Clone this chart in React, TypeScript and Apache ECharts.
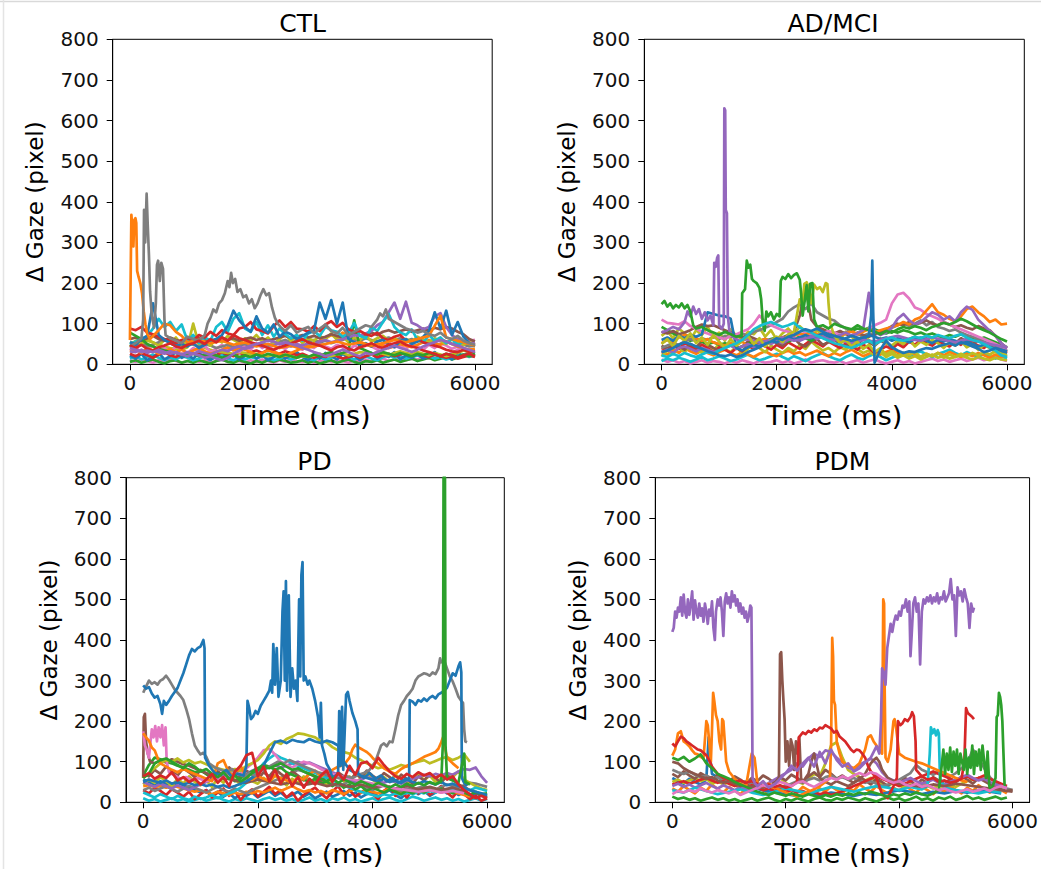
import React, { useEffect, useRef } from "react";
import * as echarts from "echarts";

type Pair = [number, number];

// Shared sampling grid (ms) for traces stored as plain value lists
const TIME_GRID = [
  0, 100, 200, 300, 400, 500, 600, 700, 800, 900,
  1000, 1100, 1200, 1300, 1400, 1500, 1600, 1700, 1800, 1900,
  2000, 2100, 2200, 2300, 2400, 2500, 2600, 2700, 2800, 2900,
  3000, 3100, 3200, 3300, 3400, 3500, 3600, 3700, 3800, 3900,
  4000, 4100, 4200, 4300, 4400, 4500, 4600, 4700, 4800, 4900,
  5000, 5100, 5200, 5300, 5400, 5500, 5600, 5700, 5800, 5900,
  6000,
];

const X_TICKS = [0, 2000, 4000, 6000];
const PANEL_TITLES = ["CTL", "AD/MCI", "PD", "PDM"];

// ---------------- CTL ----------------
const ctlBlueA = [
  55, 48, 62, 70, 150, 72, 60, 52, 45, 50,
  44, 52, 40, 48, 58, 62, 72, 95, 132, 108,
  92, 80, 118, 88, 78, 98, 68, 80, 74, 62,
  70, 78, 82, 152, 112, 158, 100, 152, 62, 55,
  48, 52, 44, 56, 60, 48, 42, 58, 62, 50,
  56, 68, 82, 128, 88, 132, 72, 104, 68, 52,
  44,
];
const ctlCyanA = [
  48, 56, 62, 70, 88, 112, 92, 104, 82, 98,
  58, 72, 52, 66, 58, 92, 104, 80, 112, 126,
  88, 80, 104, 72, 96, 68, 88, 74, 64, 72,
  58, 76, 82, 70, 92, 84, 80, 68, 76, 102,
  70, 64, 92, 82, 104, 124, 92, 78, 72, 86,
  60, 54, 72, 58, 66, 52, 62, 48, 56, 50,
  46,
];
const ctlRedA = [
  88, 84, 92, 78, 74, 68, 62, 58, 52, 60,
  64, 58, 72, 66, 80, 70, 84, 76, 72, 88,
  92, 104, 86, 82, 76, 94, 108, 92, 104, 88,
  86, 80, 94, 82, 98, 106, 92, 102, 86, 80,
  82, 74, 70, 78, 64, 60, 68, 72, 58, 56,
  62, 54, 50, 46, 42, 36, 32, 30, 36, 30,
  32,
];
const ctlRedB = [
  46, 40, 48, 38, 34, 42, 46, 52, 44, 40,
  48, 52, 58, 50, 62, 54, 66, 58, 72, 64,
  60, 54, 50, 46, 40, 36, 42, 46, 52, 56,
  62, 54, 50, 46, 40, 34, 42, 46, 38, 34,
  42, 46, 52, 44, 40, 48, 52, 56, 48, 44,
  40, 34, 30, 26, 20, 26, 22, 16, 22, 26,
  20,
];
const ctlPurpleA = [
  40, 36, 30, 34, 30, 36, 30, 26, 30, 24,
  20, 26, 22, 16, 20, 14, 10, 16, 26, 34,
  40, 46, 50, 54, 58, 56, 50, 54, 50, 46,
  40, 36, 30, 26, 20, 24, 30, 36, 30, 24,
  20, 28, 24, 30, 36, 40, 46, 40, 36, 30,
  36, 44, 50, 54, 60, 56, 50, 46, 40, 36,
  30,
];
const ctlPurpleB = [
  32, 30, 36, 28, 34, 30, 26, 32, 28, 24,
  30, 26, 32, 28, 24, 30, 36, 32, 40, 44,
  38, 42, 48, 44, 50, 46, 52, 48, 44, 50,
  46, 52, 48, 56, 60, 54, 58, 62, 66, 72,
  70, 76, 82, 96, 104, 128, 152, 112, 154, 102,
  96, 86, 92, 118, 126, 92, 72, 62, 56, 50,
  52,
];
const ctlBrown = [
  62, 66, 58, 64, 70, 62, 58, 66, 60, 56,
  62, 58, 64, 60, 56, 62, 66, 60, 64, 58,
  62, 66, 60, 64, 58, 62, 66, 70, 64, 68,
  72, 66, 70, 64, 68, 74, 70, 66, 72, 76,
  70, 74, 78, 72, 80, 84, 78, 82, 86, 80,
  84, 88, 82, 90, 86, 92, 88, 80, 74, 62,
  56,
];
const ctlGreenA = [
  78, 70, 62, 50, 44, 38, 34, 30, 28, 24,
  22, 26, 20, 24, 18, 22, 16, 20, 24, 18,
  22, 18, 24, 20, 26, 22, 18, 24, 20, 16,
  22, 18, 24, 20, 26, 30, 24, 28, 34, 108,
  40, 34, 28, 24, 30, 26, 22, 28, 24, 20,
  26, 22, 28, 24, 20, 26, 22, 18, 24, 20,
  26,
];
const ctlOlive = [
  52, 56, 50, 58, 54, 48, 44, 40, 38, 36,
  42, 100, 48, 40, 36, 32, 30, 28, 26, 30,
  28, 24, 26, 22, 20, 24, 18, 22, 20, 16,
  20, 18, 22, 26, 22, 20, 24, 28, 22, 26,
  30, 28, 24, 30, 26, 22, 28, 32, 28, 24,
  30, 26, 22, 28, 24, 20, 24, 28, 34, 30,
  28,
];
const ctlOliveB = [
  44, 58, 50, 62, 54, 46, 60, 52, 66, 48,
  56, 64, 50, 58, 46, 62, 54, 70, 60, 52,
  64, 58, 72, 56, 66, 50, 62, 74, 58, 68,
  52, 64, 58, 70, 62, 76, 60, 68, 54, 66,
  60, 72, 56, 64, 70, 58, 66, 52, 62, 56,
  68, 60, 54, 64, 58, 50, 62, 56, 48, 54,
  50,
];
const ctlPink = [
  10, 6, 12, 8, 4, 10, 6, 12, 8, 4,
  8, 12, 6, 10, 4, 8, 12, 6, 10, 8,
  4, 10, 6, 12, 8, 4, 10, 6, 12, 8,
  6, 10, 4, 8, 12, 6, 10, 8, 4, 10,
  8, 12, 6, 10, 14, 8, 12, 16, 10, 14,
  12, 18, 14, 20, 16, 22, 28, 36, 48, 58,
  60,
];
const ctlPinkB = [
  34, 42, 28, 38, 46, 32, 40, 30, 44, 36,
  28, 40, 34, 46, 30, 38, 48, 34, 42, 30,
  46, 36, 52, 40, 48, 34, 44, 38, 50, 42,
  36, 46, 40, 52, 44, 38, 48, 42, 34, 46,
  40, 50, 44, 36, 48, 54, 42, 46, 38, 50,
  44, 36, 48, 40, 52, 46, 38, 44, 50, 56,
  48,
];
const ctlBlueB = [
  22, 14, 26, 10, 18, 28, 12, 20, 30, 16,
  24, 14, 28, 18, 10, 22, 30, 16, 24, 12,
  20, 28, 14, 24, 10, 18, 26, 14, 22, 30,
  18, 10, 24, 14, 28, 20, 12, 26, 16, 22,
  10, 20, 28, 14, 24, 18, 30, 12, 22, 16,
  26, 14, 20, 30, 18, 24, 12, 28, 20, 32,
  26,
];
const ctlOrangeB = [
  30, 36, 28, 40, 34, 26, 32, 38, 30, 36,
  28, 34, 40, 32, 26, 30, 36, 42, 34, 40,
  36, 30, 24, 28, 34, 30, 26, 22, 28, 34,
  40, 46, 52, 58, 64, 72, 66, 78, 70, 62,
  56, 48, 44, 50, 46, 40, 44, 50, 46, 42,
  48, 54, 60, 52, 48, 56, 50, 44, 40, 36,
  38,
];
const ctlCyanB = [
  14, 20, 12, 18, 24, 16, 10, 18, 12, 20,
  16, 10, 14, 20, 12, 18, 22, 14, 10, 16,
  12, 18, 14, 20, 16, 10, 14, 18, 12, 16,
  20, 14, 10, 18, 12, 16, 22, 14, 18, 12,
  16, 20, 14, 10, 18, 22, 16, 20, 14, 18,
  22, 16, 20, 14, 18, 12, 16, 20, 24, 18,
  22,
];
const ctlGreenB = [
  6, 10, 4, 8, 12, 6, 2, 8, 10, 4,
  8, 4, 10, 6, 2, 8, 12, 6, 4, 10,
  6, 2, 8, 4, 10, 6, 12, 8, 4, 6,
  10, 4, 8, 2, 6, 10, 4, 8, 12, 6,
  2, 8, 6, 10, 4, 8, 12, 6, 10, 14,
  8, 12, 16, 10, 14, 18, 12, 16, 20, 24,
  22,
];
const ctlRedC = [
  26, 20, 28, 22, 16, 24, 30, 22, 18, 26,
  20, 28, 24, 18, 26, 22, 30, 24, 20, 28,
  24, 30, 34, 28, 36, 30, 26, 32, 28, 22,
  26, 20, 16, 22, 18, 24, 20, 14, 18, 22,
  16, 20, 24, 18, 22, 26, 20, 24, 28, 22,
  26, 22, 18, 24, 20, 16, 20, 14, 18, 22,
  18,
];
const ctlGrayB = [
  40, 46, 52, 44, 48, 54, 60, 56, 50, 46,
  52, 48, 44, 50, 46, 40, 44, 48, 42, 46,
  50, 44, 48, 52, 46, 50, 56, 60, 54, 58,
  62, 56, 60, 54, 58, 52, 56, 60, 66, 62,
  58, 64, 60, 56, 62, 66, 60, 64, 58, 62,
  56, 60, 54, 58, 62, 56, 50, 54, 48, 44,
  46,
];
const ctlOrangeA: Pair[] = [
  [0, 60], [15, 250], [25, 368], [45, 330], [60, 290], [75, 355], [95, 360], [110, 348],
  [125, 230], [150, 215], [180, 200], [210, 175], [240, 130], [270, 98], [300, 75], [350, 62],
  [400, 70], [500, 84], [600, 100], [700, 96], [800, 80], [900, 70], [1000, 54], [1200, 60],
  [1400, 52], [1600, 58], [1800, 48], [2000, 54], [2200, 44], [2400, 50], [2600, 40], [2800, 46],
  [3000, 38], [3200, 44], [3400, 50], [3600, 56], [3800, 48], [4000, 54], [4200, 46], [4400, 52],
  [4600, 60], [4800, 54], [5000, 62], [5200, 70], [5400, 120], [5500, 66], [5700, 58], [5900, 50],
  [6000, 46],
];
const ctlGrayA: Pair[] = [
  [0, 44], [100, 52], [200, 64], [230, 110], [245, 380], [265, 300], [290, 420], [310, 340],
  [330, 270], [350, 180], [380, 120], [420, 90], [450, 150], [470, 245], [490, 255], [520, 205],
  [545, 250], [575, 235], [600, 110], [620, 72], [700, 64], [800, 58], [900, 52], [1000, 68],
  [1100, 62], [1200, 58], [1300, 72], [1350, 100], [1400, 115], [1450, 135], [1500, 128], [1550, 150],
  [1600, 158], [1650, 175], [1700, 205], [1730, 190], [1760, 225], [1790, 200], [1830, 210], [1870, 178],
  [1920, 185], [1970, 165], [2020, 170], [2070, 150], [2120, 160], [2170, 138], [2220, 150], [2270, 170],
  [2320, 185], [2370, 170], [2420, 175], [2470, 140], [2520, 115], [2570, 100], [2620, 92], [2700, 82],
  [2800, 96], [2900, 78], [3000, 86], [3100, 92], [3200, 76], [3300, 88], [3400, 98], [3500, 82],
  [3600, 76], [3700, 90], [3800, 72], [3900, 80], [4000, 88], [4100, 96], [4200, 92], [4300, 110],
  [4350, 125], [4400, 118], [4450, 135], [4500, 112], [4600, 104], [4700, 96], [4800, 88], [4900, 84],
  [5000, 78], [5100, 82], [5200, 74], [5300, 70], [5400, 78], [5500, 66], [5600, 62], [5700, 70],
  [5800, 58], [5900, 52], [6000, 48],
];

// ---------------- AD/MCI ----------------
const adPurpleA: Pair[] = [
  [0, 78], [100, 84], [200, 92], [300, 86], [400, 104], [450, 130], [500, 118], [550, 142],
  [600, 124], [650, 136], [700, 112], [750, 128], [800, 108], [850, 120], [900, 96], [915, 250],
  [940, 240], [965, 262], [985, 268], [1000, 96], [1050, 88], [1080, 100], [1090, 630], [1105, 625],
  [1115, 380], [1135, 372], [1150, 120], [1180, 80], [1250, 66], [1350, 58], [1500, 62], [1700, 54],
  [1900, 60], [2100, 66], [2300, 58], [2500, 64], [2700, 70], [2900, 62], [3100, 58], [3300, 52],
  [3500, 60], [3700, 56], [3900, 64], [4100, 70], [4300, 62], [4500, 58], [4700, 66], [4900, 60],
  [5100, 54], [5300, 62], [5500, 56], [5700, 50], [5900, 44], [6000, 40],
];
const adPurpleB = [
  30, 36, 28, 40, 44, 38, 32, 40, 36, 30,
  34, 40, 46, 38, 44, 50, 42, 48, 56, 50,
  58, 52, 60, 66, 58, 64, 70, 62, 68, 74,
  66, 72, 78, 70, 76, 84, 176, 80, 72, 78,
  90, 112, 124, 108, 98, 104, 116, 128, 122, 110,
  118, 106, 128, 142, 134, 110, 96, 82, 70, 52,
  40,
];
const adBlueA: Pair[] = [
  [0, 30], [100, 34], [200, 40], [300, 48], [400, 54], [500, 50], [600, 44], [700, 38],
  [800, 32], [900, 28], [1000, 22], [1100, 20], [1200, 24], [1300, 18], [1400, 22], [1500, 30],
  [1600, 36], [1700, 42], [1800, 50], [1900, 56], [2000, 64], [2100, 60], [2200, 68], [2300, 72],
  [2400, 80], [2500, 86], [2600, 82], [2700, 88], [2800, 80], [2900, 74], [3000, 70], [3100, 66],
  [3200, 62], [3300, 58], [3400, 62], [3500, 66], [3600, 70], [3640, 120], [3660, 255], [3675, 130],
  [3700, 4], [3750, 20], [3800, 36], [3900, 58], [4000, 42], [4100, 34], [4200, 28], [4300, 32],
  [4400, 30], [4500, 36], [4600, 40], [4700, 38], [4800, 44], [4900, 48], [5000, 52], [5100, 46],
  [5200, 54], [5300, 50], [5400, 44], [5500, 38], [5600, 30], [5700, 34], [5800, 40], [5900, 36],
  [6000, 32],
];
const adBlueB = [
  60, 66, 58, 70, 64, 72, 68, 74, 128, 124,
  120, 118, 112, 40, 34, 42, 48, 44, 52, 58,
  54, 62, 68, 60, 66, 72, 64, 70, 76, 68,
  62, 58, 64, 70, 66, 60, 72, 68, 62, 66,
  58, 64, 60, 54, 62, 66, 58, 52, 60, 56,
  62, 58, 52, 56, 50, 44, 48, 42, 38, 30,
  26,
];
const adGreenA: Pair[] = [
  [0, 148], [50, 156], [100, 142], [150, 150], [200, 138], [250, 146], [300, 140], [350, 150],
  [400, 138], [450, 146], [500, 130], [550, 96], [600, 88], [700, 92], [800, 84], [900, 78],
  [1000, 72], [1100, 80], [1200, 74], [1300, 68], [1390, 70], [1400, 175], [1450, 185], [1480, 255],
  [1510, 238], [1540, 245], [1570, 210], [1600, 205], [1650, 200], [1700, 188], [1730, 160], [1760, 100],
  [1790, 82], [1820, 130], [1850, 118], [1900, 128], [1950, 110], [2000, 124], [2050, 118], [2070, 205],
  [2100, 215], [2150, 210], [2200, 222], [2250, 212], [2300, 220], [2350, 224], [2400, 208], [2420, 180],
  [2450, 120], [2480, 150], [2520, 195], [2550, 130], [2580, 198], [2620, 200], [2650, 110], [2700, 92],
  [2800, 96], [2900, 88], [3000, 100], [3100, 94], [3200, 90], [3300, 86], [3400, 96], [3500, 88],
  [3600, 84], [3700, 80], [3800, 74], [3900, 82], [4000, 78], [4100, 86], [4200, 92], [4300, 88],
  [4400, 94], [4500, 90], [4600, 84], [4700, 92], [4800, 96], [4900, 102], [5000, 98], [5100, 104],
  [5200, 112], [5300, 106], [5400, 98], [5500, 90], [5600, 84], [5700, 78], [5800, 70], [5900, 62],
  [6000, 56],
];
const adOliveA: Pair[] = [
  [0, 50], [100, 62], [200, 44], [300, 70], [400, 58], [500, 76], [600, 52], [700, 66],
  [800, 48], [900, 72], [1000, 56], [1100, 40], [1200, 62], [1300, 46], [1400, 58], [1500, 70],
  [1600, 50], [1700, 64], [1800, 44], [1900, 58], [2000, 68], [2100, 54], [2200, 74], [2300, 80],
  [2350, 120], [2400, 160], [2450, 150], [2480, 198], [2520, 202], [2560, 188], [2600, 150], [2650, 196],
  [2700, 185], [2750, 190], [2800, 178], [2850, 200], [2880, 198], [2900, 150], [2930, 100], [3000, 70],
  [3100, 52], [3200, 60], [3300, 44], [3400, 56], [3500, 38], [3600, 48], [3700, 30], [3800, 40],
  [3900, 24], [4000, 32], [4100, 20], [4200, 28], [4300, 22], [4400, 30], [4500, 18], [4600, 26],
  [4700, 20], [4800, 28], [4900, 16], [5000, 24], [5100, 18], [5200, 26], [5300, 20], [5400, 28],
  [5500, 22], [5600, 30], [5700, 24], [5800, 32], [5900, 26], [6000, 22],
];
const adOliveB = [
  20, 34, 26, 40, 30, 46, 36, 28, 42, 34,
  50, 38, 30, 44, 26, 38, 52, 40, 30, 46,
  36, 28, 40, 32, 48, 38, 56, 44, 34, 40,
  30, 42, 36, 50, 38, 28, 34, 22, 30, 18,
  26, 16, 22, 14, 20, 12, 18, 24, 16, 20,
  14, 18, 22, 16, 12, 18, 14, 10, 16, 12,
  10,
];
const adOliveC = [
  70, 82, 64, 88, 76, 60, 84, 72, 92, 66,
  78, 58, 86, 70, 62, 80, 74, 90, 68, 84,
  60, 76, 88, 72, 94, 80, 66, 84, 70, 58,
  74, 62, 80, 68, 56, 72, 60, 48, 64, 52,
  46, 58, 50, 62, 44, 56, 48, 60, 52, 40,
  54, 46, 58, 42, 50, 36, 48, 40, 30, 24,
  20,
];
const adOrangeA = [
  52, 60, 56, 66, 72, 70, 64, 58, 62, 54,
  50, 46, 52, 48, 56, 44, 50, 58, 62, 56,
  60, 66, 62, 70, 76, 72, 80, 74, 68, 72,
  66, 70, 76, 82, 74, 80, 86, 78, 84, 88,
  92, 96, 104, 98, 110, 116, 132, 148, 128, 122,
  112, 106, 118, 136, 142, 128, 118, 104, 110, 98,
  100,
];
const adPinkA = [
  110, 102, 100, 98, 106, 94, 88, 80, 76, 70,
  66, 62, 70, 74, 80, 86, 100, 120, 104, 96,
  90, 84, 80, 76, 72, 78, 74, 70, 76, 82,
  78, 72, 76, 80, 74, 82, 88, 96, 102, 110,
  150, 172, 176, 162, 140, 134, 124, 118, 112, 104,
  98, 92, 86, 80, 74, 68, 62, 56, 50, 44,
  38,
];
const adBrown = [
  80, 76, 82, 74, 78, 84, 92, 98, 94, 96,
  90, 84, 78, 72, 66, 70, 64, 58, 62, 56,
  60, 66, 72, 80, 120, 190, 110, 92, 86, 80,
  76, 82, 74, 70, 78, 72, 68, 74, 80, 86,
  94, 100, 96, 104, 98, 102, 108, 100, 96, 104,
  98, 92, 96, 90, 86, 94, 88, 84, 70, 52,
  40,
];
const adBrownB = [
  46, 38, 52, 44, 36, 50, 42, 56, 48, 40,
  34, 46, 52, 38, 44, 56, 48, 42, 54, 60,
  52, 46, 58, 64, 50, 44, 56, 62, 48, 54,
  60, 50, 44, 56, 48, 62, 54, 46, 58, 52,
  44, 56, 50, 62, 68, 58, 64, 52, 60, 66,
  58, 52, 64, 56, 48, 60, 52, 44, 48, 40,
  32,
];
const adGray = [
  40, 46, 52, 48, 56, 62, 58, 64, 60, 68,
  62, 70, 66, 72, 76, 70, 80, 84, 90, 96,
  104, 112, 130, 140, 148, 136, 150, 128, 120, 112,
  108, 96, 88, 80, 74, 70, 76, 72, 80, 86,
  90, 96, 102, 94, 100, 108, 96, 104, 92, 88,
  82, 86, 78, 72, 68, 62, 56, 50, 44, 38,
  34,
];
const adCyanA = [
  22, 18, 26, 20, 28, 22, 18, 24, 30, 26,
  34, 40, 46, 52, 60, 72, 86, 94, 100, 104,
  98, 92, 96, 102, 90, 84, 78, 70, 64, 58,
  52, 48, 44, 40, 46, 52, 58, 50, 56, 62,
  66, 60, 58, 62, 68, 64, 70, 66, 72, 68,
  64, 70, 74, 66, 60, 56, 50, 42, 34, 22,
  18,
];
const adCyanB = [
  8, 14, 10, 16, 12, 6, 12, 18, 10, 14,
  20, 14, 8, 12, 18, 24, 16, 10, 14, 20,
  26, 18, 12, 20, 14, 8, 16, 22, 28, 20,
  14, 10, 18, 24, 16, 12, 20, 26, 18, 10,
  16, 22, 28, 20, 26, 32, 24, 18, 26, 30,
  36, 28, 22, 30, 24, 18, 26, 20, 14, 20,
  14,
];
const adRed = [
  40, 34, 46, 38, 52, 44, 36, 48, 40, 30,
  42, 36, 28, 40, 32, 46, 38, 50, 44, 36,
  48, 40, 54, 46, 38, 50, 60, 52, 44, 56,
  48, 40, 52, 44, 36, 48, 40, 28, 36, 44,
  38, 50, 42, 56, 48, 60, 52, 46, 58, 50,
  44, 56, 48, 60, 54, 46, 40, 52, 44, 38,
  28,
];
const adPinkB = [
  12, 6, 10, 4, 8, 2, 6, 10, 4, 8,
  6, 2, 8, 4, 10, 6, 2, 8, 4, 6,
  10, 4, 8, 2, 6, 12, 4, 8, 10, 6,
  4, 8, 2, 6, 10, 4, 8, 12, 6, 2,
  6, 10, 4, 8, 2, 6, 10, 14, 8, 12,
  6, 10, 14, 8, 12, 16, 10, 14, 18, 12,
  8,
];
const adGreenB = [
  92, 84, 76, 70, 64, 58, 62, 56, 50, 54,
  48, 52, 46, 40, 44, 50, 56, 52, 58, 62,
  66, 60, 56, 62, 68, 64, 58, 66, 72, 68,
  74, 80, 76, 82, 88, 84, 90, 86, 80, 76,
  82, 78, 84, 80, 74, 78, 72, 76, 70, 66,
  72, 68, 74, 70, 64, 60, 66, 60, 54, 48,
  42,
];
const adOrangeB = [
  30, 24, 36, 28, 40, 32, 26, 34, 28, 22,
  30, 36, 28, 22, 30, 24, 18, 26, 32, 24,
  20, 28, 34, 26, 30, 22, 28, 34, 26, 20,
  28, 22, 30, 36, 28, 20, 26, 32, 24, 30,
  36, 28, 22, 30, 24, 18, 26, 20, 28, 22,
  30, 24, 18, 26, 20, 28, 22, 16, 24, 18,
  22,
];

// ---------------- PD ----------------
const pdBlueA: Pair[] = [
  [0, 288], [50, 280], [100, 284], [150, 268], [200, 258], [250, 262], [300, 242], [330, 218],
  [360, 250], [400, 240], [450, 250], [500, 262], [550, 272], [600, 282], [650, 300], [700, 318],
  [750, 340], [800, 362], [850, 378], [900, 372], [950, 380], [1000, 384], [1050, 400], [1070, 380],
  [1080, 110], [1150, 90], [1250, 72], [1350, 68], [1450, 80], [1550, 62], [1650, 70], [1750, 66],
  [1800, 90], [1820, 250], [1850, 232], [1880, 205], [1920, 212], [1960, 225], [2000, 218], [2050, 238],
  [2100, 250], [2150, 262], [2200, 275], [2230, 300], [2250, 270], [2270, 390], [2300, 290], [2330, 380],
  [2360, 260], [2400, 300], [2430, 470], [2450, 520], [2470, 300], [2490, 545], [2510, 275], [2540, 510],
  [2570, 260], [2600, 330], [2630, 280], [2660, 300], [2690, 250], [2720, 500], [2740, 310], [2760, 560],
  [2780, 592], [2800, 300], [2830, 310], [2870, 290], [2900, 300], [2950, 280], [3000, 250], [3050, 210],
  [3080, 160], [3100, 245], [3120, 140], [3160, 120], [3200, 95], [3260, 80], [3300, 60], [3400, 70],
  [3420, 225], [3440, 90], [3470, 235], [3490, 80], [3540, 265], [3570, 272], [3600, 250], [3650, 220],
  [3700, 200], [3740, 180], [3750, 70], [3850, 60], [3950, 72], [4050, 58], [4150, 66], [4250, 52],
  [4350, 60], [4450, 48], [4550, 56], [4640, 60], [4650, 252], [4700, 248], [4750, 240], [4800, 252],
  [4850, 248], [4900, 256], [4950, 250], [5000, 258], [5050, 262], [5100, 256], [5150, 266], [5200, 270],
  [5250, 275], [5300, 282], [5350, 300], [5400, 318], [5450, 312], [5500, 335], [5530, 345], [5550, 320],
  [5560, 60], [5600, 48], [5650, 40],
];
const pdBlueB = [
  50, 56, 52, 48, 54, 46, 50, 44, 48, 42,
  46, 40, 44, 38, 42, 36, 40, 46, 52, 60,
  70, 90, 120, 148, 152, 146, 154, 150, 148, 156,
  150, 146, 152, 148, 140, 100, 80, 72, 66, 60,
  56, 52, 58, 50, 54, 48, 56, 50, 46, 52,
  48, 44, 50, 42, 46, 40, 36, 30, 26, 22,
  18,
];
const pdGrayA: Pair[] = [
  [0, 270], [50, 285], [100, 300], [150, 292], [200, 296], [250, 290], [300, 300], [350, 304],
  [400, 312], [450, 302], [500, 290], [550, 278], [600, 270], [650, 262], [700, 252], [750, 230],
  [800, 205], [850, 170], [900, 140], [950, 128], [1000, 118], [1050, 122], [1100, 112], [1150, 96],
  [1250, 86], [1350, 80], [1450, 74], [1550, 82], [1650, 70], [1750, 64], [1850, 72], [1950, 66],
  [2050, 78], [2150, 84], [2250, 92], [2350, 100], [2450, 96], [2550, 104], [2650, 98], [2750, 92],
  [2850, 86], [2950, 80], [3050, 74], [3150, 70], [3250, 66], [3350, 62], [3450, 58], [3550, 64],
  [3650, 60], [3750, 68], [3850, 72], [3950, 80], [4050, 100], [4150, 140], [4200, 145], [4250, 138],
  [4300, 150], [4350, 148], [4400, 180], [4450, 215], [4500, 240], [4550, 250], [4600, 262], [4650, 270],
  [4700, 280], [4750, 300], [4800, 310], [4850, 314], [4900, 318], [4950, 316], [5000, 312], [5050, 320],
  [5100, 316], [5150, 330], [5180, 355], [5200, 345], [5250, 350], [5300, 330], [5350, 310], [5400, 298],
  [5450, 280], [5500, 260], [5550, 250], [5580, 245], [5600, 180], [5620, 150], [5650, 148],
];
const pdGrayB = [
  30, 36, 28, 34, 40, 32, 26, 34, 40, 36,
  30, 24, 32, 38, 30, 26, 34, 28, 22, 30,
  36, 42, 48, 54, 60, 66, 72, 80, 76, 70,
  64, 58, 52, 46, 40, 46, 52, 48, 42, 36,
  30, 36, 42, 38, 32, 28, 34, 30, 36, 40,
  34, 30, 38, 44, 40, 36, 42, 48, 46, 42,
  38,
];
const pdGreenA: Pair[] = [
  [0, 60], [100, 70], [200, 96], [300, 104], [400, 108], [500, 100], [600, 92], [700, 84],
  [800, 96], [900, 88], [1000, 76], [1100, 82], [1200, 70], [1300, 62], [1400, 74], [1500, 58],
  [1600, 66], [1700, 52], [1800, 60], [1900, 72], [2000, 80], [2100, 88], [2200, 84], [2300, 90],
  [2400, 96], [2500, 88], [2600, 80], [2700, 84], [2800, 76], [2900, 70], [3000, 64], [3100, 58],
  [3200, 52], [3300, 60], [3400, 48], [3500, 56], [3600, 50], [3700, 44], [3800, 52], [3900, 46],
  [4000, 40], [4100, 48], [4200, 42], [4300, 36], [4400, 44], [4500, 38], [4600, 46], [4700, 40],
  [4800, 48], [4900, 42], [5000, 50], [5100, 44], [5200, 52], [5230, 150], [5240, 800], [5255, 760],
  [5265, 800], [5275, 140], [5300, 60], [5400, 54], [5500, 48], [5600, 120], [5620, 50], [5700, 44],
];
const pdOlive = [
  60, 72, 84, 96, 104, 100, 108, 98, 104, 96,
  100, 94, 88, 84, 80, 76, 82, 78, 90, 96,
  104, 120, 140, 150, 144, 156, 162, 170, 168, 164,
  160, 150, 148, 136, 128, 124, 120, 110, 104, 96,
  90, 84, 88, 80, 86, 92, 88, 96, 100, 104,
  96, 102, 108, 112, 104, 110, 118, 100,
];
const pdOliveB = [
  44, 56, 48, 62, 52, 40, 58, 46, 64, 50,
  42, 54, 38, 60, 48, 70, 56, 44, 62, 52,
  46, 60, 50, 66, 54, 42, 58, 48, 64, 56,
  50, 62, 44, 58, 70, 52, 64, 48, 60, 74,
  56, 46, 62, 50, 68, 58, 44, 60, 72, 54,
  66, 50, 58, 70, 62, 76, 56, 48, 40, 34,
  30,
];
const pdOrangeA: Pair[] = [
  [0, 170], [50, 160], [100, 152], [150, 135], [200, 128], [250, 110], [300, 96], [400, 88],
  [500, 80], [600, 74], [700, 82], [800, 76], [900, 70], [1000, 64], [1100, 58], [1200, 52],
  [1300, 96], [1400, 104], [1500, 72], [1600, 66], [1700, 90], [1800, 60], [1900, 56], [2000, 64],
  [2100, 58], [2200, 52], [2300, 66], [2400, 60], [2500, 54], [2600, 48], [2700, 62], [2800, 56],
  [2900, 70], [3000, 78], [3100, 64], [3200, 72], [3300, 80], [3400, 88], [3500, 92], [3600, 110],
  [3650, 130], [3700, 142], [3750, 136], [3800, 132], [3850, 128], [3900, 124], [3950, 118], [4000, 110],
  [4100, 96], [4200, 84], [4300, 76], [4400, 70], [4500, 82], [4600, 90], [4700, 96], [4800, 104],
  [4900, 112], [5000, 118], [5100, 124], [5150, 132], [5200, 148], [5230, 160], [5260, 138], [5300, 110],
  [5400, 96], [5500, 84],
];
const pdOrangeB = [
  40, 42, 38, 40, 36, 42, 38, 34, 30, 26,
  30, 24, 20, 26, 22, 18, 24, 20, 26, 22,
  28, 24, 30, 36, 28, 34, 40, 32, 26, 30,
  24, 28, 22, 30, 26, 20, 28, 32, 24, 30,
  26, 22, 28, 34, 30, 24, 28, 22, 26, 30,
  34, 28, 24, 30, 26, 22, 18, 14,
];
const pdPink: Pair[] = [
  [0, 175], [30, 140], [60, 130], [100, 110], [150, 180], [180, 160], [210, 188], [240, 150],
  [270, 185], [300, 160], [330, 190], [360, 140], [390, 185], [410, 100], [450, 74], [550, 66],
  [650, 58], [750, 62], [850, 54], [950, 60], [1100, 52], [1300, 58], [1500, 64], [1700, 70],
  [1800, 84], [1900, 96], [2000, 110], [2100, 128], [2200, 132], [2300, 118], [2400, 100], [2500, 92],
  [2600, 86], [2700, 94], [2800, 100], [2900, 96], [3000, 90], [3100, 82], [3200, 74], [3400, 66],
  [3600, 58], [3800, 52], [4000, 46], [4200, 40], [4400, 34], [4600, 30], [4800, 26], [5000, 30],
  [5200, 24], [5400, 28], [5600, 22],
];
const pdBrown: Pair[] = [
  [0, 60], [10, 210], [30, 218], [50, 150], [80, 120], [120, 100], [200, 96], [300, 104],
  [400, 98], [500, 106], [600, 100], [700, 94], [800, 90], [900, 84], [1000, 78], [1100, 72],
  [1200, 66], [1400, 60], [1600, 54], [1800, 48], [2000, 56], [2200, 50], [2400, 44], [2600, 50],
  [2800, 42], [3000, 48], [3200, 40], [3400, 46], [3600, 38], [3800, 44], [4000, 36], [4200, 42],
  [4400, 34], [4600, 40], [4800, 32], [5000, 38], [5200, 30], [5400, 36], [5600, 28],
];
const pdBrownB = [
  72, 64, 80, 70, 88, 76, 66, 84, 74, 62,
  80, 70, 58, 76, 66, 86, 72, 60, 78, 68,
  56, 74, 64, 82, 70, 60, 76, 66, 54, 72,
  62, 50, 68, 58, 74, 64, 52, 70, 60, 78,
  66, 56, 72, 62, 50, 68, 58, 46, 64, 54,
  70, 60, 48, 66, 56, 44, 38, 30, 24, 18,
  14,
];
const pdRedA = [
  64, 72, 58, 66, 60, 74, 54, 62, 50, 58,
  44, 56, 70, 48, 62, 40, 76, 90, 116, 122,
  64, 88, 52, 80, 46, 70, 40, 62, 36, 58,
  44, 66, 78, 50, 72, 56, 90, 68, 96, 100,
  84, 110, 92, 76, 64, 58, 70, 62, 74, 66,
  72, 60, 68, 56, 64, 44, 30, 20, 10, 16,
  10,
];
const pdRedB = [
  30, 22, 36, 28, 18, 32, 24, 14, 26, 8,
  20, 30, 12, 24, 34, 16, 28, 6, 22, 32,
  14, 26, 38, 20, 30, 12, 24, 4, 18, 28,
  36, 22, 10, 26, 40, 18, 30, 14, 24, 34,
  20, 8, 28, 38, 16, 26, 12, 30, 22, 36,
  18, 28, 40, 24, 12, 30, 20, 8, 16, 4,
  10,
];
const pdGreenB = [
  66, 92, 110, 106, 100, 96, 90, 86, 80, 74,
  78, 70, 64, 72, 58, 66, 52, 60, 68, 76,
  84, 92, 88, 80, 86, 74, 68, 62, 56, 50,
  58, 46, 52, 40, 48, 36, 44, 32, 40, 28,
  36, 30, 24, 32, 26, 20, 28, 22, 30, 24,
  32, 26, 34, 28, 22, 30, 24, 18, 26, 20,
  22,
];
const pdCyanA = [
  24, 18, 12, 20, 14, 8, 16, 10, 6, 14,
  8, 12, 18, 10, 16, 22, 28, 36, 48, 62,
  80, 96, 108, 118, 110, 104, 96, 90, 84, 78,
  72, 66, 60, 54, 48, 42, 36, 30, 26, 22,
  18, 14, 20, 16, 22, 18, 24, 20, 26, 22,
  28, 24, 30, 26, 32, 28, 34, 30, 36, 32,
  28,
];
const pdCyanB = [
  10, 4, 8, 2, 6, 10, 4, 8, 2, 6,
  10, 4, 8, 12, 6, 2, 8, 4, 10, 6,
  2, 8, 12, 6, 10, 4, 8, 2, 6, 12,
  4, 8, 2, 10, 6, 12, 4, 8, 2, 6,
  10, 4, 8, 12, 6, 2, 8, 14, 10, 4,
  8, 12, 6, 10, 4, 8, 2, 6, 10, 4,
  8,
];
const pdPurple = [
  50, 44, 38, 46, 40, 34, 42, 36, 30, 38,
  44, 50, 56, 62, 68, 74, 80, 76, 70, 78,
  84, 80, 88, 92, 86, 90, 96, 100, 94, 98,
  92, 86, 80, 74, 68, 62, 56, 50, 56, 62,
  58, 52, 48, 54, 50, 46, 52, 58, 62, 68,
  64, 70, 66, 72, 68, 76, 82, 80, 86, 64,
  48,
];
const pdBlueC = [
  56, 50, 44, 52, 46, 40, 48, 42, 36, 30,
  24, 30, 18, 26, 14, 22, 10, 20, 16, 24,
  12, 20, 28, 16, 24, 12, 18, 26, 14, 22,
  10, 18, 26, 14, 20, 28, 16, 24, 12, 20,
  26, 14, 22, 30, 18, 10, 24, 32, 20, 28,
  16, 24, 34, 22, 30, 18, 26, 14, 22, 16,
  12,
];

// ---------------- PDM ----------------
const pdmPurpleA: Pair[] = [
  [0, 420], [25, 430], [50, 470], [75, 455], [100, 480], [125, 470], [150, 505], [175, 460],
  [200, 512], [225, 470], [250, 455], [275, 500], [300, 462], [325, 488], [350, 520], [375, 450],
  [400, 498], [425, 470], [450, 455], [475, 490], [500, 460], [525, 478], [550, 445], [575, 490],
  [600, 470], [625, 440], [650, 475], [675, 460], [700, 495], [725, 430], [750, 400], [770, 470],
  [800, 500], [825, 485], [850, 505], [875, 470], [900, 410], [925, 495], [950, 515], [975, 490],
  [1000, 505], [1025, 480], [1050, 520], [1075, 495], [1100, 510], [1125, 485], [1150, 500], [1175, 470],
  [1200, 490], [1225, 465], [1250, 480], [1275, 455], [1300, 470], [1325, 445], [1350, 460], [1375, 485],
  [1395, 480], [1405, 300], [1415, 60], [1450, 48], [1500, 40], [1600, 52], [1700, 36], [1800, 44],
  [1900, 58], [2000, 72], [2100, 90], [2200, 78], [2300, 96], [2400, 110], [2500, 88], [2600, 124],
  [2700, 96], [2800, 130], [2900, 104], [3000, 88], [3100, 96], [3200, 76], [3300, 84], [3400, 98],
  [3500, 110], [3600, 138], [3650, 120], [3680, 200], [3700, 330], [3730, 320], [3760, 290], [3790, 380],
  [3820, 410], [3850, 440], [3880, 420], [3910, 445], [3940, 460], [3970, 450], [4000, 470], [4030, 460],
  [4060, 485], [4090, 480], [4120, 500], [4150, 470], [4180, 495], [4200, 360], [4220, 410], [4250, 490],
  [4280, 505], [4310, 470], [4340, 490], [4370, 340], [4400, 470], [4430, 500], [4460, 490], [4490, 505],
  [4520, 495], [4550, 510], [4580, 490], [4610, 505], [4640, 495], [4670, 515], [4700, 490], [4730, 505],
  [4760, 500], [4790, 520], [4820, 495], [4850, 505], [4880, 515], [4910, 550], [4940, 500], [4970, 510],
  [5000, 410], [5030, 530], [5060, 510], [5090, 520], [5120, 495], [5150, 525], [5180, 505], [5210, 490],
  [5240, 430], [5270, 490], [5300, 470], [5320, 480],
];
const pdmBrownA: Pair[] = [
  [0, 100], [100, 96], [200, 84], [300, 76], [400, 70], [500, 64], [600, 58], [700, 62],
  [800, 54], [900, 48], [1000, 52], [1100, 46], [1200, 40], [1300, 44], [1400, 38], [1500, 42],
  [1600, 36], [1700, 40], [1800, 46], [1880, 60], [1900, 365], [1920, 370], [1940, 300], [1960, 250],
  [1980, 205], [2000, 100], [2030, 150], [2060, 90], [2090, 155], [2120, 140], [2150, 80], [2180, 150],
  [2210, 120], [2240, 160], [2270, 60], [2300, 50], [2400, 70], [2450, 100], [2500, 120], [2550, 90],
  [2600, 60], [2700, 50], [2800, 44], [2900, 52], [3000, 46], [3100, 40], [3200, 48], [3300, 56],
  [3400, 70], [3500, 96], [3550, 104], [3600, 110], [3650, 100], [3700, 80], [3800, 60], [3900, 52],
  [4000, 46], [4200, 42], [4400, 38], [4600, 44], [4800, 40], [5000, 46], [5200, 42], [5400, 38],
  [5600, 34], [5800, 30], [5900, 28], [6000, 30],
];
const pdmBrownB = [
  70, 62, 76, 66, 58, 72, 64, 54, 68, 60,
  50, 64, 56, 46, 60, 52, 66, 58, 48, 62,
  54, 68, 60, 50, 64, 74, 62, 80, 70, 58,
  66, 56, 48, 62, 54, 44, 58, 50, 40, 54,
  46, 60, 52, 42, 56, 48, 62, 54, 44, 58,
  50, 64, 56, 46, 60, 52, 44, 38, 32, 28,
  26,
];
const pdmOrange: Pair[] = [
  [0, 115], [50, 130], [100, 170], [150, 175], [200, 150], [250, 145], [300, 138], [350, 128],
  [400, 120], [450, 118], [500, 112], [550, 108], [600, 200], [625, 190], [650, 150], [680, 100],
  [700, 180], [720, 270], [740, 250], [770, 215], [800, 200], [830, 150], [860, 130], [880, 205],
  [900, 200], [920, 160], [950, 100], [1000, 76], [1100, 58], [1200, 46], [1300, 40], [1400, 120],
  [1450, 110], [1500, 48], [1600, 40], [1700, 46], [1800, 38], [1900, 30], [2000, 24], [2100, 20],
  [2200, 14], [2300, 20], [2400, 26], [2500, 32], [2600, 40], [2700, 50], [2780, 60], [2800, 140],
  [2820, 405], [2835, 360], [2850, 250], [2870, 240], [2900, 150], [2950, 120], [3000, 100], [3100, 90],
  [3200, 84], [3300, 96], [3400, 130], [3450, 160], [3500, 165], [3550, 150], [3600, 140], [3650, 130],
  [3700, 120], [3720, 500], [3735, 490], [3745, 280], [3760, 110], [3800, 100], [3850, 130], [3900, 200],
  [3920, 205], [3950, 180], [4000, 120], [4100, 110], [4200, 105], [4300, 100], [4400, 96], [4500, 90],
  [4600, 84], [4700, 78], [4800, 72], [4900, 66], [5000, 60], [5100, 54], [5200, 50],
];
const pdmOrangeB = [
  34, 26, 40, 30, 22, 36, 28, 44, 32, 24,
  38, 28, 20, 34, 26, 42, 30, 22, 36, 28,
  44, 32, 24, 38, 30, 20, 34, 26, 40, 30,
  22, 36, 28, 44, 34, 26, 40, 30, 22, 36,
  28, 42, 32, 24, 38, 30, 20, 34, 26, 40,
  30, 22, 36, 28, 42, 32, 24, 38, 30, 22,
];
const pdmRedA: Pair[] = [
  [0, 145], [50, 138], [100, 150], [150, 162], [200, 158], [250, 150], [300, 145], [350, 140],
  [400, 135], [450, 130], [500, 128], [550, 122], [600, 116], [650, 104], [700, 88], [800, 70],
  [900, 60], [1000, 56], [1100, 50], [1200, 54], [1300, 48], [1400, 52], [1500, 46], [1600, 40],
  [1700, 44], [1800, 38], [1900, 42], [2000, 36], [2100, 40], [2200, 50], [2230, 160], [2260, 165],
  [2300, 172], [2350, 168], [2400, 176], [2450, 172], [2500, 180], [2550, 176], [2600, 184], [2650, 182],
  [2700, 190], [2750, 186], [2800, 182], [2850, 172], [2900, 176], [2950, 162], [3000, 156], [3050, 150],
  [3100, 140], [3150, 130], [3200, 124], [3250, 130], [3300, 128], [3350, 120], [3400, 110], [3450, 90],
  [3500, 76], [3600, 60], [3700, 20], [3800, 10], [3900, 40], [3960, 60], [3980, 200], [4020, 190],
  [4060, 195], [4100, 205], [4150, 200], [4200, 210], [4230, 222], [4260, 212], [4290, 150], [4300, 80],
  [4400, 64], [4500, 56], [4600, 60], [4700, 50], [4800, 54], [4900, 48], [5000, 52], [5100, 58],
  [5150, 100], [5180, 232], [5210, 220], [5250, 215], [5290, 210], [5320, 205],
];
const pdmRedB = [
  44, 48, 52, 46, 50, 56, 60, 54, 48, 52,
  46, 40, 44, 38, 42, 36, 30, 34, 28, 32,
  26, 30, 24, 28, 22, 26, 20, 24, 18, 22,
  28, 34, 40, 46, 52, 58, 64, 58, 52, 46,
  40, 46, 52, 58, 64, 70, 76, 70, 64, 58,
  52, 58, 64, 56, 60, 66, 58, 52, 46, 40,
];
const pdmGreenA: Pair[] = [
  [0, 110], [100, 104], [200, 112], [300, 100], [400, 108], [500, 118], [600, 96], [700, 84],
  [800, 70], [900, 64], [1000, 58], [1100, 50], [1200, 44], [1300, 38], [1400, 32], [1500, 26],
  [1600, 22], [1700, 18], [1800, 24], [1900, 20], [2000, 16], [2100, 22], [2200, 18], [2300, 14],
  [2400, 20], [2500, 16], [2600, 12], [2700, 18], [2800, 14], [2900, 20], [3000, 16], [3100, 22],
  [3200, 18], [3300, 24], [3400, 20], [3500, 26], [3600, 22], [3700, 18], [3800, 14], [3900, 20],
  [4000, 16], [4100, 22], [4200, 18], [4300, 24], [4400, 20], [4500, 16], [4600, 22], [4700, 30],
  [4750, 90], [4780, 130], [4810, 70], [4840, 120], [4870, 80], [4900, 135], [4930, 75], [4960, 125],
  [4990, 90], [5020, 130], [5050, 70], [5080, 120], [5110, 100], [5140, 80], [5170, 130], [5200, 70],
  [5230, 110], [5260, 85], [5290, 140], [5320, 70], [5350, 125], [5380, 90], [5410, 130], [5440, 80],
  [5470, 140], [5500, 100], [5530, 60], [5560, 125], [5590, 40], [5620, 30], [5650, 40], [5700, 60],
  [5720, 210], [5740, 215], [5760, 270], [5780, 260], [5800, 240], [5820, 200], [5840, 120], [5860, 40],
];
const pdmCyan: Pair[] = [
  [0, 30], [200, 24], [400, 36], [600, 28], [800, 20], [1000, 26], [1200, 32], [1400, 24],
  [1600, 18], [1800, 26], [2000, 34], [2200, 28], [2400, 22], [2600, 30], [2800, 38], [3000, 32],
  [3200, 26], [3400, 34], [3600, 40], [3800, 36], [4000, 30], [4200, 38], [4400, 32], [4500, 40],
  [4540, 120], [4560, 185], [4590, 170], [4620, 180], [4650, 165], [4680, 178], [4700, 170], [4720, 60],
  [4800, 36], [5000, 30], [5200, 26], [5400, 22], [5600, 28], [5800, 24],
];
const pdmBlue: Pair[] = [
  [0, 60], [100, 52], [200, 46], [300, 58], [400, 50], [500, 44], [600, 56], [640, 160],
  [660, 120], [700, 70], [800, 62], [900, 54], [1000, 48], [1200, 42], [1400, 36], [1600, 30],
  [1800, 24], [2000, 20], [2200, 16], [2400, 22], [2600, 18], [2800, 24], [3000, 20], [3200, 16],
  [3400, 22], [3600, 18], [3800, 24], [4000, 30], [4200, 26], [4400, 20], [4600, 26], [4800, 22],
  [5000, 28], [5200, 24], [5400, 30], [5600, 26], [5800, 22],
];
const pdmPink = [
  20, 28, 24, 30, 26, 34, 28, 24, 30, 26,
  22, 28, 18, 24, 30, 36, 42, 38, 44, 50,
  46, 40, 48, 52, 44, 38, 46, 54, 60, 56,
  64, 58, 66, 72, 66, 74, 70, 60, 54, 48,
  52, 44, 40, 46, 38, 42, 36, 30, 34, 28,
  24, 28, 32, 26, 30, 34, 28, 36, 40, 34,
];
const pdmOlive = [
  50, 56, 48, 54, 60, 52, 58, 46, 52, 44,
  50, 42, 36, 44, 38, 46, 40, 34, 42, 60,
  48, 40, 52, 46, 58, 70, 64, 96, 140, 148,
  110, 80, 70, 62, 54, 60, 52, 46, 40, 48,
  42, 36, 44, 38, 46, 40, 34, 42, 36, 44,
  38, 46, 52, 56, 60, 58, 48, 40, 44, 38,
];
const pdmGray = [
  80, 74, 70, 76, 68, 62, 66, 58, 62, 56,
  50, 54, 48, 52, 46, 40, 44, 38, 42, 36,
  40, 46, 52, 48, 56, 60, 54, 62, 66, 58,
  62, 56, 60, 54, 48, 52, 46, 40, 44, 48,
  56, 64, 72, 92, 80, 74, 68, 76, 70, 64,
  72, 84, 96, 130, 110, 84, 62, 48, 40, 34,
  30,
];
const pdmGreenB = [
  14, 8, 12, 6, 10, 4, 8, 12, 6, 10,
  4, 8, 2, 6, 10, 4, 8, 12, 6, 2,
  8, 4, 10, 6, 2, 8, 12, 6, 4, 10,
  6, 12, 8, 4, 10, 6, 2, 8, 12, 6,
  10, 4, 8, 14, 6, 10, 4, 12, 8, 14,
  6, 10, 16, 8, 12, 6, 10, 14, 8, 12,
];
const pdmPurpleB = [
  40, 46, 38, 44, 36, 42, 48, 40, 34, 42,
  36, 30, 38, 32, 26, 34, 40, 48, 56, 64,
  72, 80, 96, 88, 108, 120, 112, 128, 124, 110,
  98, 86, 80, 92, 100, 108, 96, 74, 60, 54,
  48, 54, 60, 52, 46, 50, 56, 48, 44, 50,
  56, 62, 68, 60, 54, 58, 50, 44, 40, 36,
];

// ---------------- assembly ----------------
const TAB10: Record<string, string> = {
  blue: "#1f77b4",
  orange: "#ff7f0e",
  green: "#2ca02c",
  red: "#d62728",
  purple: "#9467bd",
  brown: "#8c564b",
  pink: "#e377c2",
  gray: "#7f7f7f",
  olive: "#bcbd22",
  cyan: "#17becf",
};

const onGrid = (values: number[]): Pair[] =>
  values.map((v, i) => [TIME_GRID[i], v] as Pair);

type Trace = [string, Pair[]];

const PANEL_TRACES: Trace[][] = [
  [
    ["pink", onGrid(ctlPink)],
    ["green", onGrid(ctlGreenB)],
    ["cyan", onGrid(ctlCyanB)],
    ["blue", onGrid(ctlBlueB)],
    ["red", onGrid(ctlRedC)],
    ["olive", onGrid(ctlOlive)],
    ["pink", onGrid(ctlPinkB)],
    ["orange", onGrid(ctlOrangeB)],
    ["gray", onGrid(ctlGrayB)],
    ["olive", onGrid(ctlOliveB)],
    ["brown", onGrid(ctlBrown)],
    ["green", onGrid(ctlGreenA)],
    ["purple", onGrid(ctlPurpleB)],
    ["cyan", onGrid(ctlCyanA)],
    ["red", onGrid(ctlRedA)],
    ["blue", onGrid(ctlBlueA)],
    ["orange", ctlOrangeA],
    ["gray", ctlGrayA],
    ["red", onGrid(ctlRedB)],
    ["purple", onGrid(ctlPurpleA)],
  ],
  [
    ["pink", onGrid(adPinkB)],
    ["cyan", onGrid(adCyanB)],
    ["orange", onGrid(adOrangeB)],
    ["olive", onGrid(adOliveB)],
    ["red", onGrid(adRed)],
    ["brown", onGrid(adBrownB)],
    ["olive", onGrid(adOliveC)],
    ["green", onGrid(adGreenB)],
    ["gray", onGrid(adGray)],
    ["brown", onGrid(adBrown)],
    ["pink", onGrid(adPinkA)],
    ["orange", onGrid(adOrangeA)],
    ["purple", onGrid(adPurpleB)],
    ["blue", onGrid(adBlueB)],
    ["purple", adPurpleA],
    ["olive", adOliveA],
    ["green", adGreenA],
    ["cyan", onGrid(adCyanA)],
    ["blue", adBlueA],
  ],
  [
    ["cyan", onGrid(pdCyanB)],
    ["blue", onGrid(pdBlueC)],
    ["red", onGrid(pdRedB)],
    ["orange", onGrid(pdOrangeB)],
    ["gray", onGrid(pdGrayB)],
    ["olive", onGrid(pdOliveB)],
    ["brown", onGrid(pdBrownB)],
    ["purple", onGrid(pdPurple)],
    ["cyan", onGrid(pdCyanA)],
    ["green", onGrid(pdGreenB)],
    ["brown", pdBrown],
    ["pink", pdPink],
    ["olive", onGrid(pdOlive)],
    ["orange", pdOrangeA],
    ["blue", onGrid(pdBlueB)],
    ["gray", pdGrayA],
    ["blue", pdBlueA],
    ["green", pdGreenA],
    ["red", onGrid(pdRedA)],
  ],
  [
    ["green", onGrid(pdmGreenB)],
    ["orange", onGrid(pdmOrangeB)],
    ["blue", pdmBlue],
    ["olive", onGrid(pdmOlive)],
    ["brown", onGrid(pdmBrownB)],
    ["gray", onGrid(pdmGray)],
    ["red", onGrid(pdmRedB)],
    ["purple", onGrid(pdmPurpleB)],
    ["cyan", pdmCyan],
    ["brown", pdmBrownA],
    ["orange", pdmOrange],
    ["red", pdmRedA],
    ["green", pdmGreenA],
    ["pink", onGrid(pdmPink)],
    ["purple", pdmPurpleA],
  ],
];

const FONT = '"DejaVu Sans", "Liberation Sans", sans-serif';

const GRIDS = [
  { left: 112.7, top: 39.3, width: 379.5, height: 325 },
  { left: 644.3, top: 39.3, width: 380, height: 325 },
  { left: 126, top: 477.7, width: 378.3, height: 324.6 },
  { left: 655.3, top: 477.7, width: 378, height: 324.6 },
];
const TITLE_POS = [
  [302.5, 23],
  [833, 23],
  [314.5, 461.5],
  [842.5, 461.5],
];

export default function App() {
  const ref = useRef<HTMLDivElement>(null);

  useEffect(() => {
    if (!ref.current) return;
    const chart = echarts.init(ref.current, undefined, { renderer: "svg" });

    const series: any[] = [];
    PANEL_TRACES.forEach((traces, p) => {
      traces.forEach(([colorKey, data]) => {
        series.push({
          type: "line",
          xAxisIndex: p,
          yAxisIndex: p,
          data,
          showSymbol: false,
          symbol: "none",
          silent: true,
          clip: true,
          lineStyle: { color: TAB10[colorKey], width: 2.7, join: "round" },
          itemStyle: { color: TAB10[colorKey] },
        });
      });
    });

    const option: any = {
      animation: false,
      backgroundColor: "#ffffff",
      grid: GRIDS.map((g) => ({
        ...g,
        show: true,
        borderColor: "#000",
        borderWidth: 1,
        backgroundColor: "transparent",
        containLabel: false,
      })),
      xAxis: GRIDS.map((_, i) => ({
        type: "value",
        gridIndex: i,
        min: -300,
        max: 6300,
        name: "Time (ms)",
        nameLocation: "middle",
        nameGap: 38,
        nameTextStyle: { fontSize: 27, color: "#000", fontFamily: FONT },
        axisLine: { show: true, onZero: false, lineStyle: { color: "#000", width: 1 } },
        axisTick: {
          show: true,
          inside: false,
          length: 6,
          customValues: X_TICKS,
          lineStyle: { color: "#000", width: 1 },
        },
        axisLabel: {
          show: true,
          customValues: X_TICKS,
          formatter: (v: number) => String(v),
          fontSize: 20,
          color: "#111",
          fontFamily: FONT,
          margin: 9,
        },
        splitLine: { show: false },
      })),
      yAxis: GRIDS.map((_, i) => ({
        type: "value",
        gridIndex: i,
        min: 0,
        max: 800,
        interval: 100,
        name: "Δ Gaze (pixel)",
        nameLocation: "middle",
        nameGap: 66,
        nameTextStyle: { fontSize: 23, color: "#000", fontFamily: FONT },
        axisLine: { show: true, onZero: false, lineStyle: { color: "#000", width: 1 } },
        axisTick: { show: true, inside: false, length: 6, lineStyle: { color: "#000", width: 1 } },
        axisLabel: {
          formatter: (v: number) => String(v),
          fontSize: 20,
          color: "#111",
          fontFamily: FONT,
          margin: 14,
        },
        splitLine: { show: false },
      })),
      graphic: [
        {
          type: "line",
          shape: { x1: 0, y1: 1.5, x2: 1041, y2: 1.5 },
          style: { stroke: "#d9d9d9", lineWidth: 1.5 },
          silent: true,
        },
        {
          type: "line",
          shape: { x1: 3.5, y1: 0, x2: 3.5, y2: 869 },
          style: { stroke: "#e4e4e4", lineWidth: 1.5 },
          silent: true,
        },
        ...PANEL_TITLES.map((t, i) => ({
          type: "text",
          x: TITLE_POS[i][0],
          y: TITLE_POS[i][1],
          silent: true,
          style: {
            text: t,
            fontSize: 25,
            fontFamily: FONT,
            fill: "#000",
            textAlign: "center",
            textVerticalAlign: "middle",
          },
        })),
      ],
      series,
    };

    chart.setOption(option);
    return () => chart.dispose();
  }, []);

  return (
    <div
      ref={ref}
      style={{
        position: "fixed",
        left: 0,
        top: 0,
        width: 1041,
        height: 869,
        background: "#fff",
      }}
    />
  );
}
